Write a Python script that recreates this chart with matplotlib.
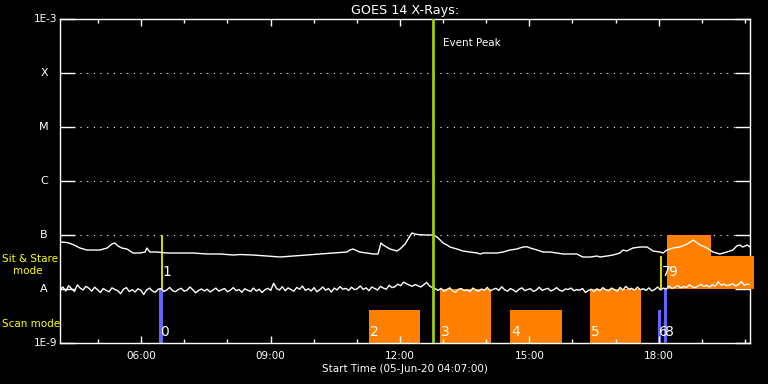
import numpy as np
import matplotlib.pyplot as plt
from matplotlib import transforms
from matplotlib.ticker import FuncFormatter, NullLocator

plt.rcParams["font.family"] = ["DejaVu Sans"]

# time axis in hours of 05-Jun-20
t_start, t_end = 4 + 7 / 60, 20 + 7 / 60
event_peak = 12.76

# GOES 1-8 A channel, flux in 1e-9 W/m^2
long_time = [4.12, 4.28, 4.42, 4.58, 4.74, 4.88, 5.04, 5.21, 5.32, 5.39,
             5.46, 5.55, 5.67, 5.81, 5.97, 6.09, 6.13, 6.20, 6.37, 6.60,
             6.90, 7.20, 7.53, 7.83, 8.13, 8.29, 8.59, 8.92, 9.22, 9.52,
             9.84, 10.15, 10.45, 10.77, 10.84, 10.91, 11.07, 11.38, 11.49, 11.56,
             11.61, 11.77, 11.93, 12.00, 12.12, 12.23, 12.28, 12.35, 12.46, 12.63,
             12.77, 12.86, 12.93, 13.00, 13.09, 13.16, 13.32, 13.46, 13.62, 13.79,
             13.86, 13.93, 14.09, 14.25, 14.39, 14.55, 14.71, 14.85, 14.95, 15.02,
             15.18, 15.32, 15.48, 15.64, 15.78, 15.94, 16.10, 16.24, 16.41, 16.57,
             16.64, 16.80, 16.94, 17.10, 17.17, 17.26, 17.40, 17.57, 17.73, 17.87,
             18.03, 18.10, 18.19, 18.33, 18.49, 18.66, 18.80, 18.89, 18.96, 19.12,
             19.26, 19.42, 19.58, 19.72, 19.81, 19.88, 19.95, 20.05, 20.12]
long_flux = [74.2, 72.6, 66.5, 57.4, 52.7, 52.7, 52.7, 57.4, 68.1, 71.1,
             62.6, 57.4, 55.0, 46.4, 46.4, 48.4, 57.4, 48.4, 48.4, 46.4,
             46.4, 46.4, 44.5, 44.5, 42.6, 43.5, 42.6, 40.8, 39.1, 40.8,
             42.6, 44.5, 46.4, 48.4, 52.7, 55.0, 48.4, 44.5, 44.5, 71.1,
             65.3, 55.0, 50.5, 55.0, 68.1, 95.8, 109.0, 104.0, 101.0, 100.0,
             100.0, 91.8, 80.8, 71.1, 65.3, 59.9, 55.0, 50.5, 48.4, 46.4,
             44.5, 46.4, 46.4, 46.4, 48.4, 52.7, 55.0, 59.9, 60.5, 57.4,
             52.7, 48.4, 48.4, 46.4, 44.5, 44.5, 44.5, 39.1, 39.1, 40.8,
             39.1, 40.8, 42.6, 46.4, 52.7, 50.5, 57.4, 59.9, 59.9, 50.5,
             48.4, 46.4, 52.7, 57.4, 59.9, 68.1, 80.8, 71.1, 65.3, 57.4,
             48.4, 44.5, 48.4, 52.7, 62.6, 65.3, 59.9, 65.3, 59.9]

# GOES 0.5-4 A channel, flux in 1e-9 W/m^2, 4-minute samples from 04:07
short_flux = [
    9.8, 10.9, 9.2, 11.5, 10.1, 9.0, 11.9, 10.4, 9.6, 11.2,
    10.3, 9.1, 10.8, 9.7, 8.6, 10.2, 9.4, 8.9, 10.5, 9.8,
    9.3, 8.2, 9.9, 10.6, 9.0, 9.7, 8.8, 10.1, 9.5, 7.9,
    9.6, 10.4, 9.2, 8.7, 9.9, 10.2, 9.0, 9.6, 10.7, 9.3,
    8.9, 9.8, 10.3, 9.1, 9.5, 10.9, 9.7, 8.5, 9.4, 10.0,
    9.2, 9.9, 8.8, 9.6, 10.4, 9.1, 9.7, 10.2, 8.9, 9.5,
    10.6, 9.3, 9.8, 8.7, 10.1, 9.5, 9.0, 10.4, 9.2, 9.9,
    8.6, 9.7, 10.3, 9.4, 12.8, 10.2, 9.6, 11.0, 9.3, 10.5,
    9.8, 9.1, 10.7, 9.9, 11.3, 9.4, 10.1, 9.2, 10.6, 8.9,
    9.7, 10.9, 9.5, 10.2, 8.8, 10.4, 9.6, 11.1, 9.9, 10.3,
    9.4, 10.8, 9.7, 10.1, 11.4, 9.8, 10.5, 9.3, 10.9, 10.2,
    9.6, 11.2, 10.4, 9.9, 11.7, 10.6, 11.0, 12.3, 11.5, 13.4,
    12.6, 11.8, 11.2, 12.1, 11.5, 10.9, 12.0, 13.2, 11.4, 10.6,
    10.1, 9.4, 10.3, 9.0, 9.8, 10.5, 9.2, 8.7, 9.9, 10.2,
    9.3, 9.7, 8.9, 10.4, 9.6, 9.1, 10.0, 9.5, 10.7, 9.2,
    9.8, 10.3, 9.4, 11.0, 9.7, 9.1, 10.2, 9.6, 8.8, 9.9,
    10.5, 9.3, 9.8, 10.1, 9.0, 9.6, 10.8, 9.4, 9.9, 10.3,
    9.2, 9.7, 10.6, 9.5, 9.1, 10.0, 9.8, 10.4, 9.3, 9.7,
    9.5, 10.2, 8.6, 9.4, 9.9, 8.9, 10.1, 9.3, 10.6, 9.7,
    9.2, 10.4, 9.8, 9.0, 10.7, 9.6, 11.2, 9.9, 10.3, 9.5,
    10.8, 9.7, 10.1, 9.4, 10.5, 9.2, 9.8, 10.9, 9.6, 10.4,
    10.0, 11.3, 10.2, 10.8, 11.6, 10.5, 11.1, 10.7, 11.9, 11.0,
    10.6, 11.4, 12.2, 11.1, 11.7, 10.9, 12.0, 11.3, 13.6, 11.8,
    12.3, 11.5, 11.9, 12.6, 11.4, 12.1, 13.8, 11.7, 12.4, 12.0]
short_time = np.linspace(t_start, t_end, len(short_flux))

# IRIS observations
obs_label = ["0", "1", "2", "3", "4", "5", "6", "7", "8", "9", ""]
obs_start = [6.42, 6.48, 11.28, 12.93, 14.55, 16.41, 17.98, 18.05, 18.12, 18.19, 18.19]
obs_end = [6.50, 6.48, 12.46, 14.11, 15.76, 17.59, 18.05, 18.05, 18.19, 20.21, 19.21]
obs_mode = ["scan", "stare", "scan", "scan", "scan", "scan", "scan", "stare", "scan", "stare", "stare"]
obs_size = [1.0, 1.0, 0.61, 1.0, 0.61, 1.0, 0.61, 0.61, 1.0, 0.61, 1.0]  # decades

levels = [1e-9, 1e-8, 1e-7, 1e-6, 1e-5, 1e-4, 1e-3]
level_names = ["1E-9", "A", "B", "C", "M", "X", "1E-3"]

band_bottom = {"scan": 1e-9, "stare": 1e-8}
label_lift = {"scan": 0.2, "stare": 0.315}

W, H = 768, 384
fig = plt.figure(figsize=(W / 100, H / 100), dpi=100, facecolor="black")
ax = fig.add_axes([60 / W, 1 - 343 / H, 690 / W, 324 / H])
ax.set_facecolor("black")
ax.set_yscale("log")
ax.set_ylim(levels[0], levels[-1])
ax.set_xlim(t_start, t_end)
for sp in ax.spines.values():
    sp.set_color("white")
    sp.set_linewidth(1.0)
    sp.set_zorder(2.5)

ax.set_yticks(levels)
ax.yaxis.set_minor_locator(NullLocator())
ax.tick_params(axis="y", which="major", direction="in", length=10.5, width=1,
               color="white", left=True, right=True, labelleft=False)
ax.set_xticks([6, 9, 12, 15, 18])
ax.set_xticks(range(5, 21), minor=True)
ax.xaxis.set_major_formatter(FuncFormatter(lambda h, p: f"{int(h):02d}:00"))
ax.tick_params(axis="x", which="major", direction="in", length=5, width=1,
               color="white", labelcolor="white", labelsize=7.5, top=True, pad=6)
ax.tick_params(axis="x", which="minor", direction="in", length=3, width=1,
               color="white", top=True)

for lvl in levels[2:6]:
    ax.axhline(lvl, color="white", lw=0.8, ls=(0, (1, 5)), zorder=0.5)

# observation blocks
for lab, s, e, mode, size in zip(obs_label, obs_start, obs_end, obs_mode, obs_size):
    lo = band_bottom[mode]
    hi = lo * 10 ** size
    if e - s <= 0:
        ax.vlines(s, lo, hi, color="#ffff00", lw=1.2, zorder=1.5)
    else:
        color = "#6464ff" if e - s < 0.2 else "#ff8000"
        ax.bar(s, hi - lo, width=e - s, bottom=lo, align="edge", color=color,
               lw=0, zorder=3 if s > 18.1 else 1, clip_on=False)
    if lab:
        ax.annotate(lab, xy=(s, lo * 10 ** label_lift[mode]), xytext=(1, 0),
                    textcoords="offset pixels", color="white", fontsize=10,
                    ha="left", va="center", zorder=5)

ax.plot(long_time, np.array(long_flux) * 1e-9, color="white", lw=1, zorder=4)
ax.plot(short_time, np.array(short_flux) * 1e-9, color="white", lw=1, zorder=4)

ax.axvline(event_peak, color="#a0cc10", lw=2, zorder=4.5)
ax.annotate("Event Peak", xy=(event_peak, 1), xycoords=("data", "axes fraction"),
            xytext=(10, -24), textcoords="offset pixels", color="white",
            fontsize=7.5, ha="left", va="center")

trans = transforms.blended_transform_factory(fig.transFigure, ax.transData)
for lvl, name in zip(levels, level_names):
    if name.startswith("1E"):
        fig.text(57 / W, lvl, name, transform=trans, color="white", fontsize=7.5,
                 ha="right", va="center")
    else:
        fig.text(44 / W, lvl, name, transform=trans, color="white", fontsize=8,
                 ha="center", va="center")

fig.text(2 / W, 1 - 259 / H, "Sit & Stare", color="#ffff00", fontsize=7.5, va="center")
fig.text(13 / W, 1 - 271 / H, "mode", color="#ffff00", fontsize=7.5, va="center")
fig.text(2 / W, 1 - 324 / H, "Scan mode", color="#ffff00", fontsize=7.5, va="center")

ax.set_title("GOES 14 X-Rays:", color="white", fontsize=9.2, pad=3.5)
ax.set_xlabel("Start Time (05-Jun-20 04:07:00)", color="white", fontsize=7.5, labelpad=2)

fig.savefig("out.png", dpi=100, facecolor="black")
